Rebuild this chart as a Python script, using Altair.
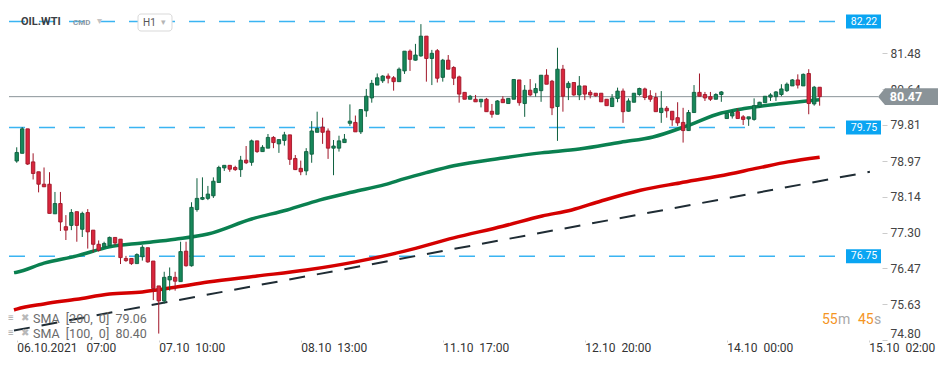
import altair as alt
import pandas as pd

# ---- candle data (hourly OHLC, OIL.WTI) ----
opens = [78.97, 79.15, 79.72, 78.95, 78.72, 78.43, 78.43, 77.74, 77.98, 77.44,
         77.47, 77.79, 77.38, 77.77, 77.36, 77.03, 76.97, 77.00, 77.19, 77.15,
         76.70, 76.70, 76.58, 76.74, 76.95, 76.64, 76.06, 75.71, 76.20, 76.26,
         76.16, 76.87, 76.53, 77.84, 78.08, 78.10, 78.16, 78.47, 78.81, 78.87,
         78.82, 78.77, 78.99, 78.94, 79.44, 79.19, 79.27, 79.52, 79.37, 79.45,
         79.58, 79.03, 78.80, 78.74, 79.13, 79.64, 79.76, 79.67, 79.27, 79.27,
         79.40, 79.85, 79.87, 79.65, 80.14, 80.44, 80.74, 80.84, 80.95, 80.91,
         80.82, 81.07, 81.53, 81.32, 81.42, 81.88, 81.36, 81.54, 80.92, 81.32,
         81.15, 80.93, 80.57, 80.41, 80.41, 80.35, 80.41, 80.13, 80.06, 80.41,
         80.31, 80.41, 80.86, 80.31, 80.62, 80.56, 80.61, 80.97, 80.83, 80.24,
         81.11, 80.68, 80.80, 80.51, 80.72, 80.57, 80.55, 80.55, 80.41, 80.24,
         80.43, 80.60, 80.13, 80.34, 80.52, 80.65, 80.49, 80.45, 80.10, 80.20,
         80.13, 79.98, 79.87, 79.68, 80.10, 80.57, 80.52, 80.47, 80.41, 80.52,
         79.96, 80.02, 80.12, 80.00, 79.95, 79.94, 80.24, 80.33, 80.46, 80.47,
         80.52, 80.61, 80.72, 80.86, 80.72, 81.01, 80.30, 80.69]
highs = [79.29, 79.76, 79.72, 79.15, 78.72, 78.82, 78.71, 78.25, 78.25, 77.71,
         77.85, 77.79, 77.79, 77.85, 77.36, 77.12, 77.09, 77.21, 77.19, 77.15,
         76.76, 76.70, 76.82, 77.01, 76.95, 76.64, 76.06, 76.39, 76.49, 76.39,
         77.09, 77.09, 78.01, 78.57, 78.59, 78.39, 78.59, 78.86, 78.87, 78.87,
         78.86, 79.09, 79.32, 79.47, 79.44, 79.34, 79.60, 79.55, 79.47, 79.65,
         79.58, 79.11, 78.98, 79.27, 79.90, 80.12, 79.98, 79.73, 79.46, 79.56,
         79.60, 80.29, 80.03, 80.17, 80.65, 80.86, 81.01, 80.97, 81.01, 80.95,
         81.15, 81.53, 81.57, 81.70, 82.16, 81.88, 81.56, 81.58, 81.35, 81.44,
         81.18, 80.96, 80.57, 80.51, 80.51, 80.41, 80.44, 80.30, 80.39, 80.48,
         80.43, 80.87, 80.86, 80.74, 80.88, 80.78, 80.97, 81.11, 80.86, 81.61,
         81.21, 80.83, 80.80, 80.95, 80.72, 80.62, 80.55, 80.55, 80.41, 80.53,
         80.68, 80.66, 80.43, 80.55, 80.68, 80.68, 80.62, 80.56, 80.60, 80.25,
         80.13, 80.34, 80.21, 80.16, 80.74, 81.01, 80.58, 80.58, 80.55, 80.60,
         80.08, 80.16, 80.20, 80.04, 80.00, 80.43, 80.35, 80.48, 80.55, 80.60,
         80.76, 80.80, 80.88, 80.99, 81.01, 81.11, 80.72, 80.69]
lows = [78.93, 79.15, 78.88, 78.54, 78.24, 78.37, 77.75, 77.74, 77.34, 77.13,
        77.36, 77.09, 77.20, 76.93, 76.84, 76.86, 76.97, 77.00, 77.01, 76.57,
        76.62, 76.55, 76.58, 76.65, 76.60, 75.73, 74.95, 75.65, 75.95, 75.95,
        76.16, 76.51, 76.51, 77.79, 78.06, 78.06, 78.11, 78.47, 78.74, 78.72,
        78.74, 78.60, 78.90, 78.86, 79.16, 79.19, 79.27, 79.27, 79.16, 79.33,
        78.88, 78.76, 78.64, 78.64, 78.93, 79.64, 79.37, 79.02, 78.64, 79.19,
        79.40, 79.79, 79.65, 79.60, 80.00, 80.33, 80.74, 80.79, 80.78, 80.61,
        80.82, 81.00, 81.07, 81.31, 81.40, 80.82, 80.74, 80.80, 80.82, 81.11,
        80.74, 80.33, 80.41, 80.41, 80.35, 80.22, 80.12, 79.98, 80.06, 80.33,
        80.31, 80.41, 80.26, 80.00, 80.48, 80.47, 80.35, 80.76, 80.04, 79.44,
        80.12, 80.39, 80.49, 80.39, 80.39, 80.43, 80.47, 80.35, 80.26, 80.24,
        80.34, 79.86, 80.12, 80.34, 80.49, 80.39, 80.35, 80.12, 79.86, 79.98,
        79.79, 79.79, 79.40, 79.67, 80.10, 80.48, 80.37, 80.37, 80.41, 80.35,
        79.96, 79.96, 79.96, 79.81, 79.79, 79.91, 80.22, 80.33, 80.37, 80.37,
        80.48, 80.58, 80.72, 80.66, 80.72, 80.06, 80.26, 80.26]
closes = [79.17, 79.72, 78.90, 78.68, 78.43, 78.37, 77.75, 77.98, 77.55, 77.36,
          77.77, 77.47, 77.75, 77.32, 77.03, 76.89, 77.05, 77.19, 77.06, 76.72,
          76.65, 76.58, 76.79, 76.96, 76.62, 76.00, 75.71, 76.26, 76.28, 76.17,
          76.86, 76.53, 77.89, 78.10, 78.12, 78.20, 78.50, 78.82, 78.87, 78.78,
          78.77, 78.99, 78.93, 79.44, 79.19, 79.29, 79.52, 79.40, 79.47, 79.58,
          79.01, 78.77, 78.72, 79.19, 79.67, 79.73, 79.64, 79.27, 79.32, 79.44,
          79.48, 79.90, 79.65, 80.17, 80.48, 80.78, 80.91, 80.95, 80.90, 80.82,
          81.11, 81.53, 81.34, 81.44, 81.88, 81.36, 81.48, 80.90, 81.32, 81.11,
          80.90, 80.53, 80.41, 80.48, 80.35, 80.41, 80.12, 80.06, 80.37, 80.33,
          80.43, 80.87, 80.33, 80.62, 80.51, 80.66, 80.97, 80.76, 80.21, 81.11,
          80.48, 80.78, 80.51, 80.72, 80.53, 80.51, 80.49, 80.35, 80.26, 80.44,
          80.60, 80.12, 80.37, 80.55, 80.66, 80.45, 80.41, 80.12, 80.20, 80.14,
          79.93, 79.86, 79.68, 80.10, 80.57, 80.48, 80.44, 80.41, 80.52, 80.58,
          80.08, 80.10, 79.96, 79.94, 80.00, 80.26, 80.34, 80.48, 80.51, 80.58,
          80.65, 80.76, 80.86, 80.74, 80.99, 80.31, 80.69, 80.47]

# ---- indicators ----
sma100_idx = [-0.5, 0, 5, 11, 17, 23, 29, 35, 43, 49.5, 55.4, 61.5, 67.4, 71, 75,
              80, 89, 96, 103, 110.6, 116.5, 122.7, 129, 133.5, 139.4, 147]
sma100_val = [76.37, 76.38, 76.59, 76.76, 76.97, 77.06, 77.15, 77.27, 77.62, 77.83,
              78.06, 78.25, 78.42, 78.56, 78.70, 78.86, 79.04, 79.16, 79.25, 79.41,
              79.53, 79.79, 80.09, 80.20, 80.30, 80.40]
sma200_idx = [-0.5, 0, 5, 11, 17, 23, 29, 35, 44, 53, 62, 71, 80, 89, 96.2, 101.6,
              107, 114.2, 121.4, 128.6, 135.8, 141.2, 147]
sma200_val = [75.50, 75.52, 75.64, 75.75, 75.87, 75.92, 76.03, 76.15, 76.29, 76.43,
              76.62, 76.87, 77.18, 77.45, 77.69, 77.83, 78.04, 78.29, 78.46, 78.62,
              78.81, 78.95, 79.06]
trend_idx = [-0.5, 156.2]
trend_val = [75.02, 78.72]

level_vals = [82.22, 79.75, 76.75]
level_labels = ["82.22", "79.75", "76.75"]
last_price = [80.47]
last_label = ["80.47"]

y_ticks = [74.80, 75.63, 76.47, 77.30, 78.14, 78.97, 79.81, 80.64, 81.48]
x_ticks = [0, 26, 52, 78, 104, 130, 156]
x_tick_labels = ["06.10.2021\u00a0\u00a0\u00a007:00", "07.10\u00a0\u00a010:00",
                 "08.10\u00a0\u00a013:00", "11.10\u00a0\u00a017:00",
                 "12.10\u00a0\u00a020:00", "14.10\u00a0\u00a000:00",
                 "15.10\u00a0\u00a002:00"]

FONT = "Roboto"
GREEN_FILL, GREEN_EDGE = "#17885a", "#0d5f3e"
RED_FILL, RED_EDGE = "#d9263d", "#a01628"
BLUE = "#3ab4f2"
GREY = "#8a9398"

candles = pd.DataFrame({"i": list(range(len(opens))), "open": opens, "high": highs,
                        "low": lows, "close": closes})
sma100 = pd.DataFrame({"i": sma100_idx, "v": sma100_val})
sma200 = pd.DataFrame({"i": sma200_idx, "v": sma200_val})
trend = pd.DataFrame({"i": trend_idx, "v": trend_val})
levels = pd.DataFrame({"v": level_vals, "label": level_labels})
last = pd.DataFrame({"v": last_price, "label": last_label})
dummy = pd.DataFrame({"d": [0]})

label_expr = " : ".join(
    f"datum.value == {t} ? '{l}'" for t, l in zip(x_ticks, x_tick_labels)) + " : ''"

xs = alt.Scale(domain=[-0.5, 157.5], nice=False, zero=False)
ys = alt.Scale(domain=[74.80, 82.536], nice=False, zero=False)
xaxis = alt.Axis(values=x_ticks, labelExpr=label_expr, labelAlign="left",
                 labelBaseline="top", labelPadding=0, tickSize=2, tickColor="#d0d0d0",
                 domain=False, grid=False, labelFontSize=12, labelColor="#333333",
                 labelFont=FONT, title=None, labelFlush=False, labelOverlap=False)
yaxis = alt.Axis(orient="right", values=y_ticks, format=".2f", labelFontSize=12,
                 labelColor="#444444", labelFont=FONT, tickSize=5, tickColor="#cccccc",
                 domain=False, grid=False, labelPadding=3, title=None,
                 labelFlush=True, labelOverlap=False)


def X(f="i"):
    return alt.X(f"{f}:Q", scale=xs, axis=xaxis)


def Y(f):
    return alt.Y(f"{f}:Q", scale=ys, axis=yaxis)


def txt(text, x, y, size, color, weight="normal", align="left"):
    return alt.Chart(dummy).mark_text(
        text=text, fontSize=size, color=color, fontWeight=weight, align=align,
        baseline="middle", font=FONT).encode(x=alt.value(x), y=alt.value(y))


level_rules = alt.Chart(levels).mark_rule(strokeDash=[16, 14], color=BLUE, strokeWidth=1.4).encode(
    y=Y("v"), x=alt.value(0), x2=alt.value(837))
last_rule = alt.Chart(last).mark_rule(color=GREY, strokeWidth=1).encode(
    y=Y("v"), x=alt.value(0), x2=alt.value(869))
trend_line = alt.Chart(trend).mark_line(strokeDash=[16, 12], strokeWidth=2,
                                        color="#1f2c34", clip=True).encode(x=X(), y=Y("v"))
sma200_line = alt.Chart(sma200).mark_line(strokeWidth=3.5, color="#d40000",
                                          interpolate="monotone", clip=True).encode(x=X(), y=Y("v"))
sma100_line = alt.Chart(sma100).mark_line(strokeWidth=3.5, color="#0a8050",
                                          interpolate="monotone", clip=True).encode(x=X(), y=Y("v"))

up = "datum.close >= datum.open"
wicks = alt.Chart(candles).mark_rule(strokeWidth=1).encode(
    x=X(), y=Y("low"), y2="high",
    color=alt.condition(up, alt.value(GREEN_EDGE), alt.value(RED_EDGE)))
bodies = alt.Chart(candles).mark_bar(size=3.4, strokeWidth=0.9).encode(
    x=X(), y=Y("open"), y2="close",
    fill=alt.condition(up, alt.value(GREEN_FILL), alt.value(RED_FILL)),
    stroke=alt.condition(up, alt.value(GREEN_EDGE), alt.value(RED_EDGE)))

box_path = "M -1 -0.4 L 1 -0.4 L 1 0.4 L -1 0.4 Z"
level_boxes = alt.Chart(levels).mark_point(shape=box_path, size=1225, filled=True,
                                           color="#0aa5f2", opacity=1, strokeWidth=0).encode(
    x=alt.value(854.5), y=Y("v"))
level_text = alt.Chart(levels).mark_text(color="white", fontSize=10.5, font=FONT,
                                         align="center", baseline="middle").encode(
    x=alt.value(855), y=Y("v"), text="label:N")

arrow_path = "M -1 0 L -0.767 -0.278 L 1 -0.278 L 1 0.278 L -0.767 0.278 Z"
last_box = alt.Chart(last).mark_point(shape=arrow_path, size=3600, filled=True,
                                      color=GREY, opacity=1, strokeWidth=0).encode(
    x=alt.value(899), y=Y("v"))
last_text = alt.Chart(last).mark_text(color="white", fontSize=12.5, fontWeight="bold",
                                      font=FONT, align="center", baseline="middle").encode(
    x=alt.value(897), y=Y("v"), text="label:N")

h1_box = alt.Chart(dummy).mark_rect(cornerRadius=3, fill="white", stroke="#d9d9d9",
                                    strokeWidth=1).encode(
    x=alt.value(129), x2=alt.value(163), y=alt.value(6), y2=alt.value(23))

overlays = [
    txt("OIL.WTI", 12, 14, 11, "#3a3f44", "bold"),
    txt("CMD", 64, 15, 8, "#8d9aa5", "bold"),
    txt("\u25be", 88, 13, 10, "#c4c4c4"),
    txt("H1", 134, 14.5, 10, "#555555"),
    txt("\u25be", 152, 14, 9, "#b5b5b5"),
    txt("\u2261", -1, 310, 10, "#a8a8a8", "bold"),
    txt("\u2716", 12, 310, 9.5, "#b8b8b8"),
    txt("SMA\u00a0 [200,\u00a0 0]\u00a0 79.06", 24, 311, 12.5, "#6a6a6a"),
    txt("\u2261", -1, 325, 10, "#a8a8a8", "bold"),
    txt("\u2716", 12, 325, 9.5, "#b8b8b8"),
    txt("SMA\u00a0 [100,\u00a0 0]\u00a0 80.40", 24, 326, 12.5, "#6a6a6a"),
    txt("55", 813, 312, 14, "#f5951f"),
    txt("m", 829, 312, 14, "#a8a8a8"),
    txt("45", 849, 312, 14, "#f5951f"),
    txt("s", 865, 312, 14, "#a8a8a8"),
]

chart = alt.layer(
    level_rules, last_rule, trend_line, sma200_line, sma100_line, wicks, bodies,
    level_boxes, level_text, last_box, last_text, h1_box, *overlays
).properties(
    width=873, height=332, padding=0, background="white"
).configure_view(strokeWidth=0)

chart.save("out.html", embed_options={"renderer": "svg", "actions": False})
